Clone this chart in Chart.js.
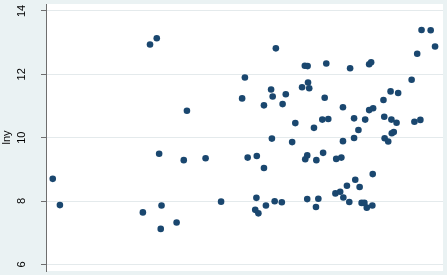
<!DOCTYPE html>
<html>
<head>
<meta charset="utf-8">
<script src="https://cdn.jsdelivr.net/npm/chart.js@4"></script>
<style>
  html, body { margin: 0; padding: 0; background: #eaf2f3; }
  canvas { display: block; }
</style>
</head>
<body>
<canvas id="scatterChart" width="447" height="275"></canvas>
<script>
// x variable (its axis is cut off in the picture)
const xVals = [
    0.17, 0.35, 2.44, 2.62, 2.79, 2.85, 2.91, 2.89, 3.29, 3.47,
    3.55, 4.02, 4.41, 4.94, 5.01, 5.08, 5.31, 5.49, 5.30, 5.27,
    5.35, 5.54, 5.76, 5.94, 5.49, 5.67, 5.71, 5.79, 5.96, 6.04,
    5.69, 6.20, 6.28, 6.52, 6.59, 7.06, 7.66, 8.14, 8.19, 9.46,
    9.69, 9.80, 9.35, 9.21, 6.60, 6.45, 6.63, 8.68, 8.87, 7.02,
    8.50, 7.48, 8.14, 8.24, 6.75, 6.96, 7.11, 7.76, 8.04, 7.87,
    8.52, 8.70, 8.83, 9.28, 9.43, 7.48, 7.76, 8.53, 8.62, 8.71,
    8.76, 6.53, 6.58, 6.81, 6.98, 7.31, 7.44, 8.23, 7.79, 7.58,
    7.90, 7.29, 7.41, 7.49, 7.64, 6.58, 6.86, 6.80, 7.95, 8.02,
    8.08, 8.22
];

const yVals = [
    8.70, 7.87, 7.64, 12.94, 13.14, 9.49, 7.86, 7.12, 7.32, 9.29,
    10.85, 9.35, 7.98, 11.24, 11.90, 9.37, 9.42, 9.04, 8.10, 7.72,
    7.61, 7.86, 7.99, 7.96, 11.02, 11.52, 11.30, 12.82, 11.06, 11.37,
    9.97, 9.86, 10.46, 12.27, 12.26, 12.34, 12.19, 12.32, 12.38, 13.40,
    13.39, 12.88, 12.65, 11.83, 11.74, 11.59, 11.56, 11.46, 11.41, 11.26,
    11.19, 10.96, 10.87, 10.93, 10.31, 10.57, 10.59, 10.61, 10.57, 10.24,
    10.66, 10.57, 10.47, 10.50, 10.56, 9.89, 9.99, 9.98, 9.88, 10.14,
    10.18, 9.32, 9.44, 9.29, 9.52, 9.33, 9.37, 8.85, 8.67, 8.48,
    8.44, 8.24, 8.29, 8.11, 7.97, 8.06, 8.07, 7.81, 7.94, 7.94,
    7.79, 7.86
];

const yTicks = [6, 8, 10, 12, 14];

const points = xVals.map((x, i) => ({ x: x, y: yVals[i] }));

// white plot region on the bluish-gray page
const plotBackground = {
    id: "plotBackground",
    beforeDraw(chart) {
        const { ctx, chartArea } = chart;
        ctx.save();
        ctx.fillStyle = "#ffffff";
        ctx.fillRect(chartArea.left, chartArea.top,
            chartArea.right - chartArea.left, chartArea.bottom - chartArea.top);
        ctx.restore();
    },
};

const ctx = document.getElementById("scatterChart").getContext("2d");

const scatterChart = new Chart(ctx, {
    type: "scatter",
    data: {
        datasets: [
            {
                label: "lny",
                data: points,
                backgroundColor: "#1a476f",
                borderColor: "#1a476f",
                borderWidth: 0,
                pointRadius: 3.3,
            },
        ],
    },
    options: {
        responsive: false,
        animation: false,
        devicePixelRatio: 1,
        layout: { padding: 0 },
        plugins: {
            legend: { display: false },
            tooltip: { enabled: false },
        },
        scales: {
            x: {
                type: "linear",
                display: false,
                min: 0,
                max: 10,
            },
            y: {
                type: "linear",
                min: 5.79,
                max: 14.22,
                afterBuildTicks: (scale) => {
                    scale.ticks = yTicks.map((v) => ({ value: v }));
                },
                afterFit: (scale) => {
                    scale.width = 46;
                    scale.paddingTop = 0;
                    scale.paddingBottom = 0;
                },
                border: {
                    display: true,
                    color: "#6e6e6e",
                    width: 1,
                },
                grid: {
                    color: "#e4eaec",
                    lineWidth: 1,
                    drawTicks: true,
                    tickLength: 5,
                    tickColor: "#6e6e6e",
                },
                ticks: {
                    minRotation: 90,
                    maxRotation: 90,
                    crossAlign: "center",
                    padding: 13,
                    color: "#000000",
                    font: { family: "Liberation Sans", size: 11 },
                },
                title: {
                    display: true,
                    text: "lny",
                    color: "#000000",
                    padding: { top: 0, bottom: 0 },
                    font: { family: "Liberation Sans", size: 11 },
                },
            },
        },
    },
    plugins: [plotBackground],
});
</script>
</body>
</html>
